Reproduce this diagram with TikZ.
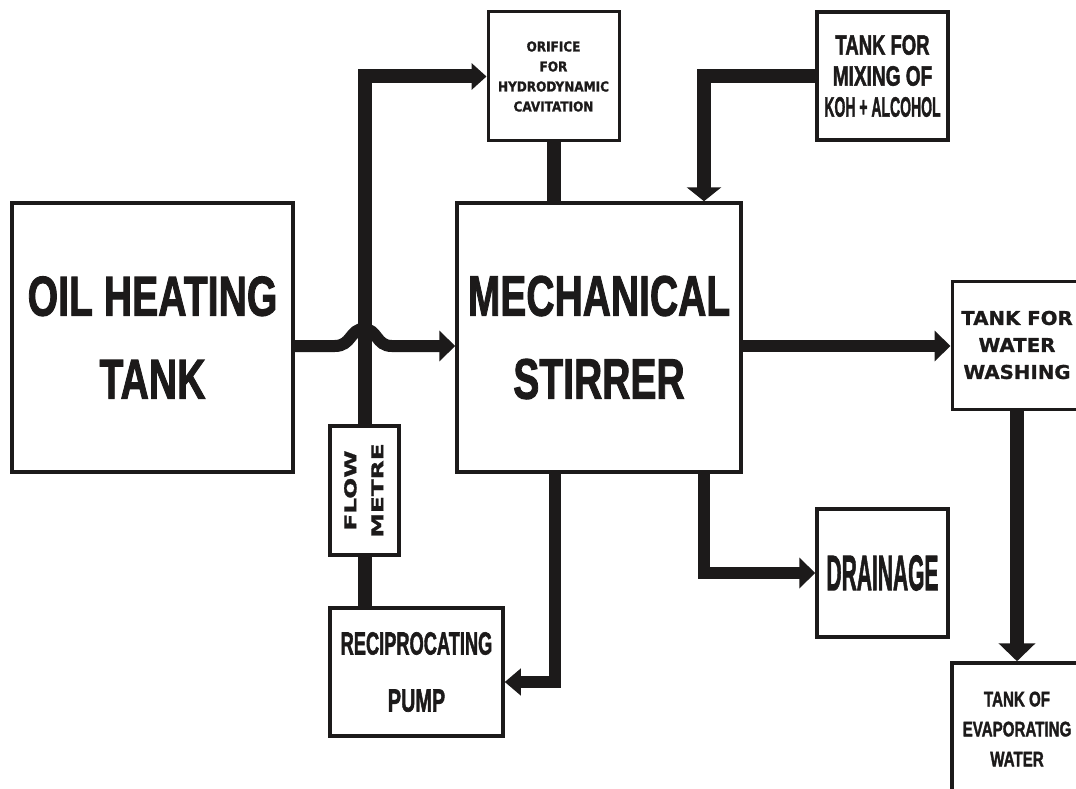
\documentclass[tikz,border=0pt]{standalone}
\usepackage{fontspec}
\usepackage{graphicx}
\usetikzlibrary{arrows.meta,positioning,calc}
\newfontfamily\condfont{Liberation Sans Bold}[FakeBold=2]
\newfontfamily\widefont{DejaVu Sans Bold}[FakeBold=1]
\definecolor{ink}{RGB}{28,26,26}
\newcommand{\sq}[2]{\scalebox{#1}[1]{#2}}

\begin{document}
\begin{tikzpicture}[
  x=1pt,y=-1pt,
  box/.style={rectangle,draw=ink,line width=3.5pt,align=center,inner sep=0pt,text=ink},
  pipe/.style={draw=ink,line width=14pt},
  arrow/.style={pipe,-{Triangle[length=16pt,width=30pt]}}
]
\useasboundingbox (0,0) rectangle (1076,789);
\fill[white] (0,0) rectangle (1076,789);
\coordinate (mid) at (0,346);
\coordinate (leftdrop) at (555,0);
\coordinate (rightdrop) at (704,0);
% boxes
\node[box,minimum width=281,minimum height=269,font={\condfont\fontsize{56}{83}\selectfont}] (oil) at (152.5,337.5) {\sq{0.7}{OIL HEATING}\\\sq{0.7}{TANK}};
\node[box,minimum width=284,minimum height=269,font={\condfont\fontsize{57}{83}\selectfont}] (stirrer) at (599,337.5) {\sq{0.685}{MECHANICAL}\\\sq{0.685}{STIRRER}};
\node[box,line width=3pt,minimum width=131,minimum height=129,font={\widefont\fontsize{13.7}{20}\selectfont}] (orifice) at (553.5,76.5) {\sq{0.88}{ORIFICE}\\\sq{0.88}{FOR}\\\sq{0.88}{HYDRODYNAMIC}\\\sq{0.88}{CAVITATION}};
\node[box,minimum width=131,minimum height=128,font={\condfont\fontsize{28}{31}\selectfont}] (mixing) at (882.5,76) {\sq{0.66}{TANK FOR}\\\sq{0.68}{MIXING OF}\\\sq{0.5}{KOH + ALCOHOL}};
\node[box,line width=3pt,minimum width=130,minimum height=128,font={\widefont\fontsize{19}{27}\selectfont}] (washing) at (1017,345) {\sq{1.04}{TANK FOR}\\\sq{1.04}{WATER}\\\sq{1.04}{WASHING}};
\node[box,minimum width=130,minimum height=132,font={\condfont\fontsize{21}{30}\selectfont}] (evap) at (1017,729) {\sq{0.72}{TANK OF}\\\sq{0.72}{EVAPORATING}\\\sq{0.72}{WATER}};
\node[box,minimum width=131,minimum height=128,font={\condfont\fontsize{50}{60}\selectfont}] (drainage) at (882.5,573) {\sq{0.42}{DRAINAGE}};
\node[box,minimum width=69,minimum height=129,font={\widefont\fontsize{16.5}{27}\selectfont}] (flow) at (364.5,490.5) {\rotatebox{90}{\begin{tabular}{@{}c@{}}\sq{1.5}{FLOW}\\\sq{1.5}{METRE}\end{tabular}}};
\node[box,minimum width=173,minimum height=128,font={\condfont\fontsize{32}{57}\selectfont}] (pump) at (416.5,672) {\sq{0.57}{RECIPROCATING}\\\sq{0.62}{PUMP}};
% pipes
\draw[arrow,line width=12pt] (oil.east|-mid) -- ++(40,0) .. controls +(17,0) and +(-14,0) .. ++(29,-17) .. controls +(14,0) and +(-16,0) .. ++(28,17) -- (stirrer.west|-mid);
\draw[arrow,-{Triangle[length=15pt,width=26pt]}] (flow.north) |- (orifice.west);
\draw[pipe] (flow.south) -- (flow.south|-pump.north);
\draw[pipe] (orifice.south) -- (orifice.south|-stirrer.north);
\draw[arrow,-{Triangle[length=14pt,width=34pt]}] (mixing.west) -| (rightdrop|-stirrer.north);
\draw[arrow,line width=12pt] (stirrer.east|-mid) -- (washing.west|-mid);
\draw[arrow,line width=12pt,-{Triangle[length=16pt,width=26pt]}] (leftdrop|-stirrer.south) |- ([yshift=-10pt]pump.east);
\draw[arrow,line width=12pt] (rightdrop|-stirrer.south) |- (drainage.west);
\draw[arrow,-{Triangle[length=18pt,width=36pt]}] (washing.south) -- (evap.north);
\end{tikzpicture}
\end{document}
